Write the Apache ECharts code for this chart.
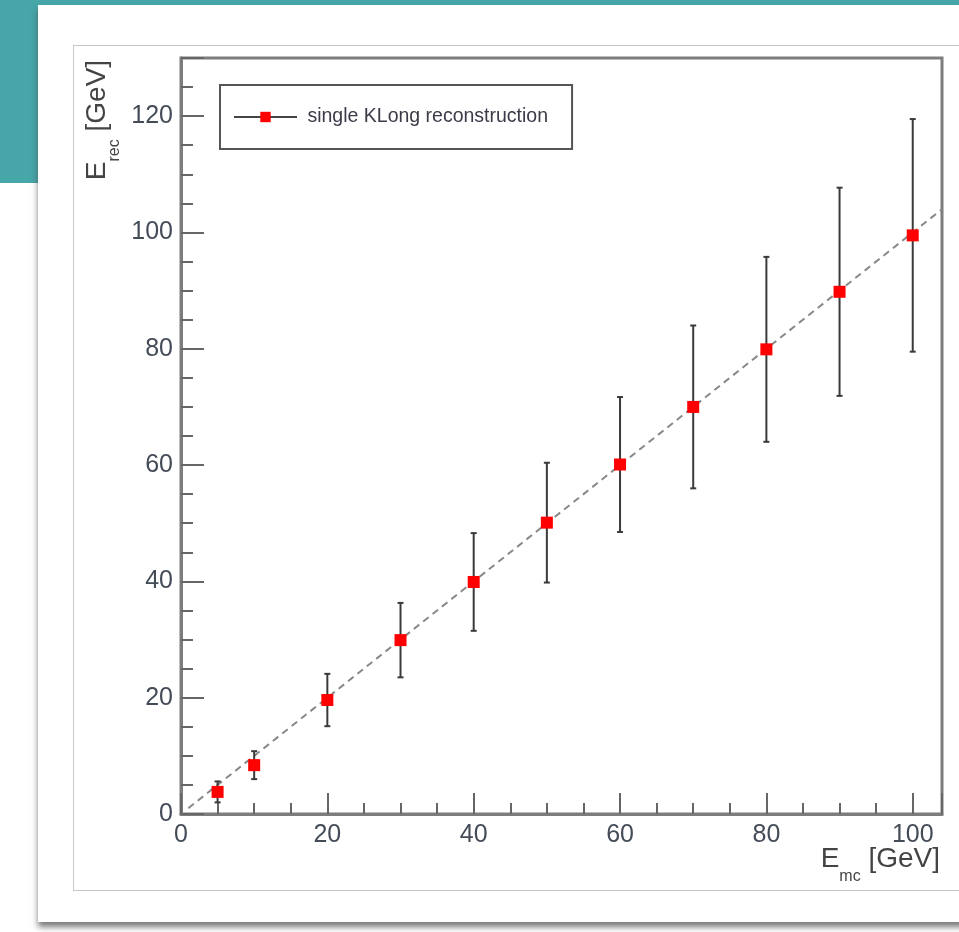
<!DOCTYPE html>
<html>
<head>
<meta charset="utf-8">
<script src="https://cdn.jsdelivr.net/npm/echarts@6/dist/echarts.min.js"></script>
<style>
  html, body { margin: 0; padding: 0; background: #fff; }
  body { width: 959px; height: 932px; position: relative; overflow: hidden; }
  .teal-top { position: absolute; left: 0; top: 0; width: 959px; height: 5px; background: #46a6a8; }
  .teal-left { position: absolute; left: 0; top: 0; width: 38px; height: 183px; background: #46a6a8; }
  .card { position: absolute; left: 38px; top: 5px; width: 960px; height: 917px; background: #fff;
          box-shadow: 0 5px 6px rgba(80,80,80,0.75); }
  .frame { position: absolute; left: 73px; top: 45px; width: 900px; height: 844px; border: 1px solid #c8c8c8; }
  #chart-container { position: absolute; left: 0; top: 0; width: 959px; height: 932px; }
</style>
</head>
<body>
<div class="teal-top"></div>
<div class="teal-left"></div>
<div class="card"></div>
<div class="frame"></div>
<div id="chart-container"></div>
<script>
// E_mc [GeV]
const energies = [5, 10, 20, 30, 40, 50, 60, 70, 80, 90, 100];
// reconstructed E_rec [GeV]
const recoMeans = [3.8, 8.4, 19.6, 29.9, 39.9, 50.1, 60.1, 70.0, 79.9, 89.8, 99.5];
// error bar half widths
const recoErrs = [1.8, 2.4, 4.5, 6.4, 8.4, 10.3, 11.6, 14.0, 15.9, 17.9, 20.0];
// reference line y = x
const diagX = [1, 104];

const font = '"Liberation Sans", Arial, sans-serif';
const titleRich = {
    b: { fontSize: 28, fontFamily: font, fill: '#444', lineHeight: 28, verticalAlign: 'top' },
    s: { fontSize: 16, fontFamily: font, fill: '#444', lineHeight: 40, verticalAlign: 'bottom' }
};

const myChart = echarts.init(document.getElementById('chart-container'));

const pointData = energies.map((e, i) => [e, recoMeans[i]]);
const errData = energies.map((e, i) => [e, recoMeans[i] - recoErrs[i], recoMeans[i] + recoErrs[i]]);
const diagData = diagX.map(v => [v, v]);

const labelFmt = v => (v % 20 === 0 ? String(v) : '');

const option = {
    animation: false,
    backgroundColor: 'transparent',
    grid: {
        left: 181, top: 58, right: 17, bottom: 118,
        show: true, borderColor: '#7d7d7d', borderWidth: 3
    },
    legend: {
        left: 220, top: 85,
        padding: [22, 24, 22, 13],
        borderColor: '#555', borderWidth: 2,
        itemWidth: 63, itemHeight: 13,
        data: ['single KLong reconstruction'],
        formatter: n => ' ' + n,
        textStyle: { fontSize: 19.5, color: '#3c3a48', fontFamily: font },
        lineStyle: { color: '#444', width: 2, opacity: 1 }
    },
    xAxis: [{
        type: 'value', min: 0, max: 104, interval: 20, position: 'bottom',
        splitLine: { show: false },
        axisLine: { onZero: false, lineStyle: { color: '#7d7d7d', width: 3 } },
        axisTick: { inside: true, length: 21, lineStyle: { color: '#666', width: 2 } },
        axisLabel: { formatter: labelFmt, margin: 9, fontSize: 25, color: '#444c58', fontFamily: font }
    }, {
        type: 'value', min: 0, max: 104, interval: 5, position: 'bottom',
        splitLine: { show: false },
        axisLine: { show: false },
        axisTick: { inside: true, length: 11, lineStyle: { color: '#666', width: 2 } },
        axisLabel: { show: false }
    }],
    yAxis: [{
        type: 'value', min: 0, max: 130, interval: 20, position: 'left',
        splitLine: { show: false },
        axisLine: { show: true, onZero: false, lineStyle: { color: '#7d7d7d', width: 3 } },
        axisTick: { show: true, inside: true, length: 23, lineStyle: { color: '#666', width: 2 } },
        axisLabel: { formatter: labelFmt, margin: 8, fontSize: 25, color: '#444c58', fontFamily: font }
    }, {
        type: 'value', min: 0, max: 130, interval: 5, position: 'left',
        splitLine: { show: false },
        axisLine: { show: false },
        axisTick: { show: true, inside: true, length: 12, lineStyle: { color: '#666', width: 2 } },
        axisLabel: { show: false }
    }],
    graphic: [{
        type: 'text', x: 103, y: 120, rotation: Math.PI / 2,
        style: {
            text: '{b|E}{s|rec}{b| [GeV]}',
            align: 'center', verticalAlign: 'middle',
            rich: titleRich
        }
    }, {
        type: 'text', x: 940, y: 865,
        style: {
            text: '{b|E}{s|mc}{b| [GeV]}',
            align: 'right', verticalAlign: 'middle',
            rich: titleRich
        }
    }],
    series: [{
        name: 'diag',
        type: 'line',
        data: diagData,
        symbol: 'none',
        lineStyle: { color: '#888', width: 2, type: [7, 5] },
        z: 1
    }, {
        name: 'errors',
        type: 'custom',
        data: errData,
        z: 2,
        renderItem: function (params, api) {
            const x = api.value(0);
            const lo = api.coord([x, api.value(1)]);
            const hi = api.coord([x, api.value(2)]);
            const cap = 3;
            const st = { stroke: '#3a3a3a', lineWidth: 2 };
            return {
                type: 'group',
                children: [
                    { type: 'line', shape: { x1: lo[0], y1: lo[1], x2: hi[0], y2: hi[1] }, style: st },
                    { type: 'line', shape: { x1: lo[0] - cap, y1: lo[1], x2: lo[0] + cap, y2: lo[1] }, style: st },
                    { type: 'line', shape: { x1: hi[0] - cap, y1: hi[1], x2: hi[0] + cap, y2: hi[1] }, style: st }
                ]
            };
        }
    }, {
        name: 'single KLong reconstruction',
        type: 'line',
        data: pointData,
        symbol: 'rect',
        symbolSize: 12,
        itemStyle: { color: '#ff0000' },
        lineStyle: { opacity: 0 },
        z: 3
    }]
};

option && myChart.setOption(option);
</script>
</body>
</html>
